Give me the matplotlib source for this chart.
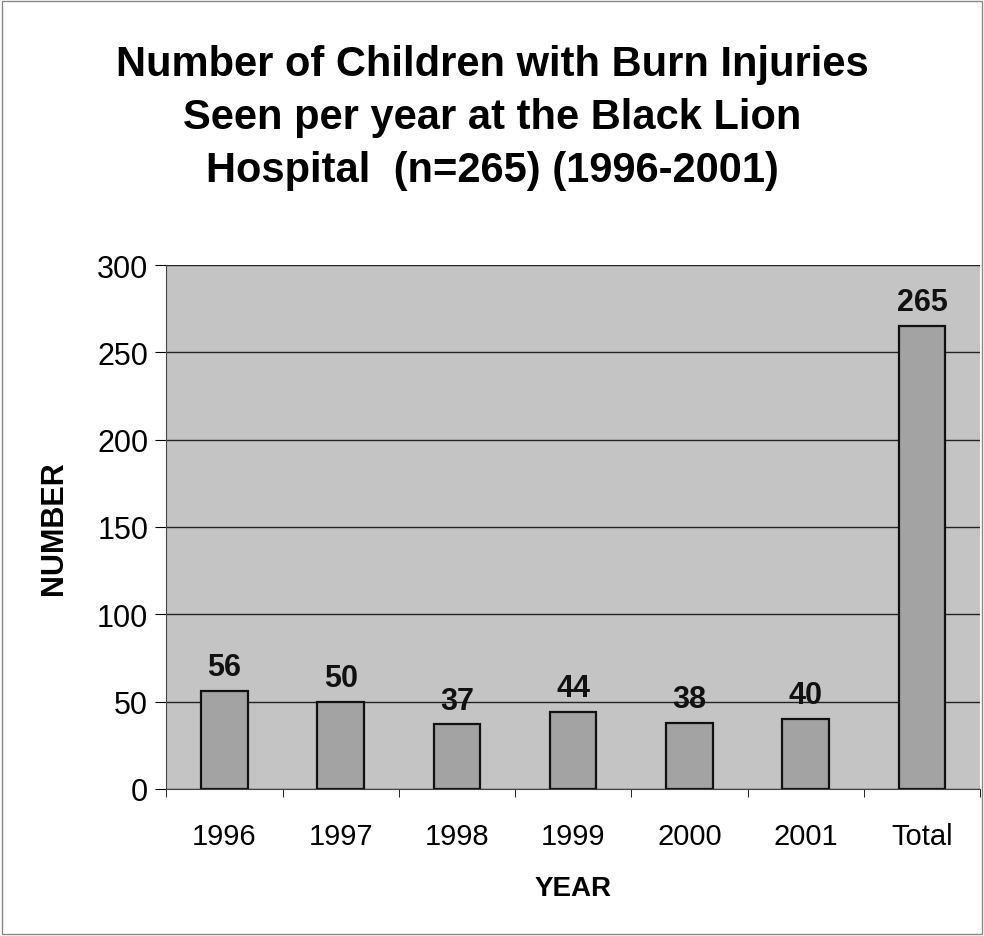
import matplotlib
matplotlib.use('Agg')
import matplotlib.pyplot as plt
import numpy as np

plt.rcParams['font.family'] = ['Liberation Sans', 'DejaVu Sans']

years = ['1996', '1997', '1998', '1999', '2000', '2001', 'Total']
counts = [56, 50, 37, 44, 38, 40, 265]
yticks = [0, 50, 100, 150, 200, 250, 300]

fig = plt.figure(figsize=(9.84, 9.37), dpi=100)
ax = fig.add_axes([0.169, 0.157, 0.827, 0.559])

x = np.arange(len(years))
ax.set_facecolor('#c4c4c4')
ax.yaxis.grid(True, color='#222222', linewidth=1.0)
ax.set_axisbelow(True)
bars = ax.bar(x, counts, width=0.4, color='#a3a3a3', edgecolor='#111111', linewidth=1.6)

# value labels above each bar
for xi, v in zip(x, counts):
    ax.text(xi, v + 5, str(v), ha='center', va='bottom', fontsize=22, fontweight='bold', color='#111111')

ax.set_xlim(-0.5, len(years) - 0.5)
ax.set_ylim(0, 300)
ax.set_yticks(yticks)
ax.set_xticks(x)
ax.set_xticklabels(years)
ax.set_xticks(np.arange(-0.5, len(years), 1), minor=True)
ax.tick_params(axis='x', which='major', length=0, labelsize=21, pad=24)
ax.tick_params(axis='x', which='minor', length=6, direction='out')
ax.tick_params(axis='y', labelsize=22, length=8, direction='out', pad=5)

for side in ['top', 'right']:
    ax.spines[side].set_visible(False)
ax.spines['left'].set_color('#444444')
ax.spines['bottom'].set_color('#444444')

ax.set_xlabel('YEAR', fontsize=20, fontweight='bold', labelpad=18)
ax.set_ylabel('NUMBER', fontsize=22, fontweight='bold', labelpad=20)

fig.text(0.5, 0.874, 'Number of Children with Burn Injuries\nSeen per year at the Black Lion\nHospital  (n=265) (1996-2001)',
         ha='center', va='center', fontsize=30, fontweight='bold', linespacing=1.42)

fig.patches.append(plt.Rectangle((0.002, 0.002), 0.996, 0.996, transform=fig.transFigure,
                                 fill=False, edgecolor='#888888', linewidth=1))

fig.savefig('out.png', dpi=100)
